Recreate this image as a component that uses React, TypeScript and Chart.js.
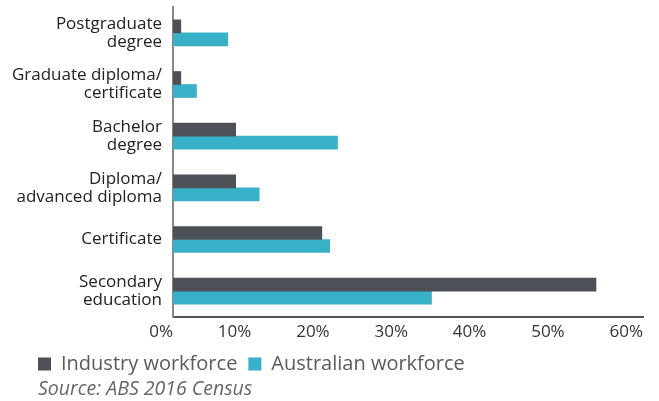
import React, { useEffect, useRef } from "react";
import { Chart, registerables } from "chart.js";

Chart.register(...registerables);

const categories: string[][] = [
  ["Postgraduate", "degree"],
  ["Graduate diploma/", "certificate"],
  ["Bachelor", "degree"],
  ["Diploma/", "advanced diploma"],
  ["Certificate"],
  ["Secondary", "education"],
];
const industryWorkforce = [1, 1, 8, 8, 19, 54];
const australianWorkforce = [7, 3, 21, 11, 20, 33];
const seriesNames = ["Industry workforce", "Australian workforce"];
const xMax = 60;
const xStep = 10;
const sourceNote = "Source: ABS 2016 Census";

const FONT = "'Open Sans', 'Noto Sans', sans-serif";

const legendShift = {
  id: "legendShift",
  afterLayout(chart: any) {
    if (chart.legend) {
      chart.legend.left += 22;
    }
  },
};

export default function App() {
  const ref = useRef<HTMLCanvasElement | null>(null);

  useEffect(() => {
    if (!ref.current) return;
    const chart = new Chart(ref.current, {
      type: "bar",
      data: {
        labels: categories,
        datasets: [
          {
            label: seriesNames[0],
            data: industryWorkforce,
            backgroundColor: "#4D5056",
            barThickness: 13,
          },
          {
            label: seriesNames[1],
            data: australianWorkforce,
            backgroundColor: "#38B0C7",
            barThickness: 13,
          },
        ],
      },
      plugins: [legendShift],
      options: {
        indexAxis: "y",
        responsive: false,
        animation: false,
        layout: { padding: { left: 5, top: 7, right: 16, bottom: 17 } },
        plugins: {
          tooltip: { enabled: false },
          title: { display: false },
          legend: {
            position: "bottom",
            align: "start",
            labels: {
              boxWidth: 13,
              boxHeight: 13,
              padding: 11,
              color: "#5A5B5E",
              font: { family: FONT, size: 20 },
            },
          },
        },
        scales: {
          x: {
            min: 0,
            max: xMax,
            grid: { display: false, drawTicks: false },
            border: { display: true, color: "#555555", width: 2 },
            ticks: {
              stepSize: xStep,
              align: "end",
              padding: 5,
              color: "#333333",
              font: { family: FONT, size: 17 },
              callback: (v: any) => `${v}%`,
            },
            afterFit: (s: any) => {
              s.height = 26;
            },
          },
          y: {
            grid: { display: false, drawTicks: false },
            border: { display: true, color: "#888888", width: 2 },
            ticks: {
              padding: 11,
              color: "#222222",
              font: { family: FONT, size: 17, lineHeight: 1.06 },
            },
            afterFit: (s: any) => {
              s.width = 168;
              s.paddingTop = 0;
              s.paddingBottom = 0;
            },
          },
        },
      },
    });
    return () => chart.destroy();
  }, []);

  return (
    <div style={{ position: "absolute", left: 0, top: 0, width: 659, height: 401, background: "#fff" }}>
      <canvas ref={ref} width={659} height={401} style={{ display: "block" }} />
      <div
        style={{
          position: "absolute",
          left: 38,
          top: 375,
          fontFamily: FONT,
          fontStyle: "italic",
          fontSize: 19.5,
          lineHeight: "26px",
          color: "#666666",
          whiteSpace: "nowrap",
        }}
      >
        {sourceNote}
      </div>
    </div>
  );
}
